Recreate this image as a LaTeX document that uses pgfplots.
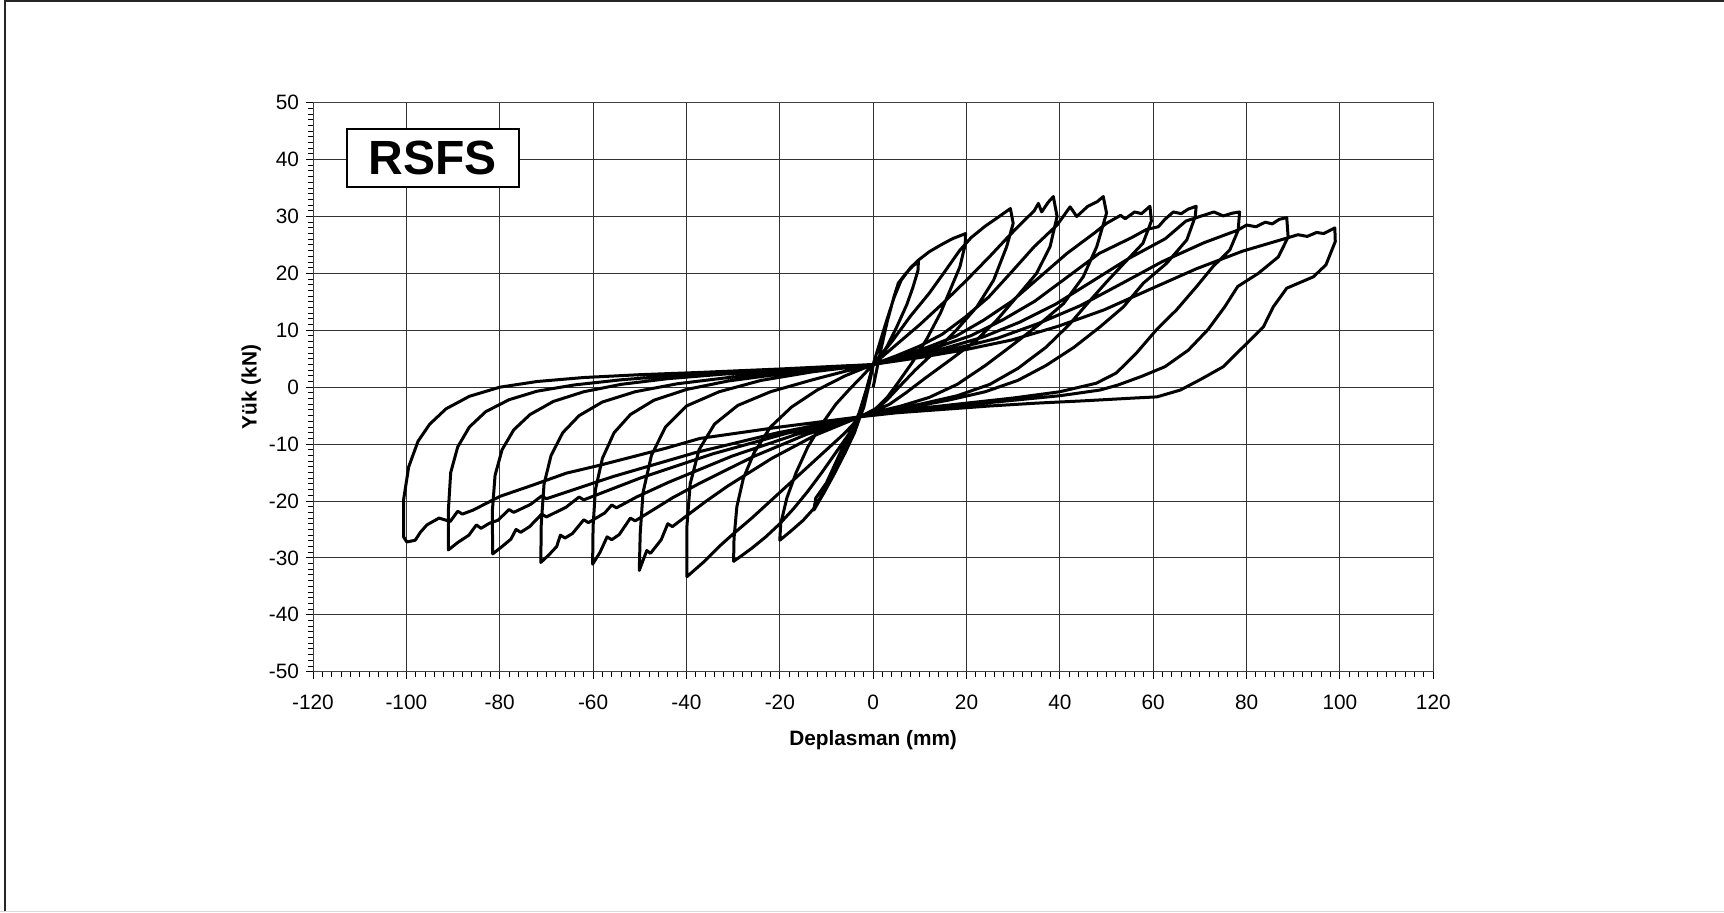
\documentclass[border=0pt]{standalone}
\usepackage{fontspec}
\setmainfont{Liberation Sans}
\usepackage{pgfplots}
\pgfplotsset{compat=1.18}
\begin{document}
\begin{tikzpicture}
\path[use as bounding box] (0,0) rectangle (862pt,456pt);
\draw[line width=1pt, black!85] (2.5pt,0) -- (2.5pt,455.5pt) -- (862pt,455.5pt);
\draw[line width=0.6pt, black!15] (0,0.4pt) -- (862pt,0.4pt);
\begin{axis}[
  at={(156.5pt,120.15pt)}, anchor=south west,
  scale only axis, width=560.15pt, height=284.5pt,
  xmin=-120, xmax=120, ymin=-50, ymax=50,
  xtick={-120,-100,...,120}, ytick={-50,-40,...,50},
  minor x tick num=9, minor y tick num=9,
  grid=major,
  grid style={black!80, line width=0.5pt},
  axis line style={black!75, line width=0.5pt},
  tick style={black, line width=0.5pt},
  tick align=outside, tick pos=left,
  major tick length=3.5pt, minor tick length=2.5pt,
  /pgf/number format/assume math mode=true,
  ticklabel style={font=\fontsize{10.4}{12}\selectfont},
  xticklabel style={yshift=-4.8pt},
  xlabel={Deplasman (mm)}, ylabel={Yük (kN)},
  label style={font=\bfseries\fontsize{10.4}{12}\selectfont},
  xlabel style={at={(axis description cs:0.5,-0.1202)}, anchor=center},
  ylabel style={at={(axis description cs:-0.0551,0.5)}, anchor=center},
]
\addplot[black, line width=1.5pt, line join=round, mark=none] coordinates {
(0,0) (1.5,6) (3,11.5) (4.5,16) (5.4,18.3) (7,20) (8.5,21.3) (9.7,22.1)
(9.6,20.5) (8.5,17.5) (7.2,14.5) (5,10.5) (3,7.2) (1,4.6) (0,3.8) (-1,0) (-2,-3.5) (-2.8,-5.2)
(-4,-8) (-6,-11.5) (-8.5,-15.5) (-10.5,-18.5) (-12.7,-21.6)
(-12.3,-19.5) (-10,-16.8) (-7.2,-11.8) (-4.8,-8) (-3,-4.5) (-1.5,-0.5) (0,4)
(1.5,8) (3,12) (4.5,15.8) (6,18.8) (8,21) (9.8,22.4) (12,23.8) (14.5,25) (17,26.1) (19.8,27)
(19.7,25) (18.6,21.2) (16.5,17.1) (14.4,13) (11.5,8.5) (8.5,4.5) (5.5,1) (3,-1.8) (0.5,-3.8) (-2.8,-5.2)
(-4.5,-8.5) (-6.5,-12) (-9,-16) (-11,-19) (-12.8,-21.4) (-15,-23.4) (-17.5,-25.2) (-20,-26.9)
(-19.8,-24) (-18.5,-19.5) (-16.5,-15) (-14,-10.5) (-11,-6.5) (-8,-3) (-5,-0.3) (-2.5,1.8) (0,4)
(4,8) (8,12.5) (12,16.5) (15.5,20.5) (18.5,24) (21,26.3) (24,28.3) (27,30) (29.4,31.4)
(30,28.8) (28.6,24.7) (25.8,18.8) (22.2,14.1) (17.9,10.1) (12.9,6) (9,3) (5.5,0) (3,-2.2) (0.5,-4) (-2.8,-5.2)
(-5,-8) (-8,-11.5) (-11,-15) (-14,-18.3) (-17,-21.3) (-20,-24) (-23,-26.3) (-26,-28.3) (-28.5,-29.8) (-29.9,-30.6)
(-29.8,-26.5) (-29.2,-21) (-27.8,-16) (-25.5,-11.5) (-22,-7) (-17.5,-3.5) (-12,-0.5) (-6,2) (0,4)
(5,7.5) (10,11) (15,14.8) (20,18.8) (25,23) (29,26.5) (32,29) (34.5,31) (35.4,32.3) (36.1,30.8) (37.5,32.5) (38.6,33.5)
(39.4,30) (37.9,24.7) (35,20) (30.8,15.9) (26.5,11.8) (22.2,8.3) (16.5,4.8) (11,1.5) (7,-1) (3.5,-3) (0,-4.3) (-2.8,-5.2)
(-6,-8) (-10,-11) (-14,-14) (-18,-17) (-22,-20) (-26,-23) (-30,-25.8) (-33,-28) (-36,-30.5) (-38.5,-32.3) (-39.9,-33.3)
(-39.9,-24.5) (-39.2,-17) (-37.3,-11) (-34,-6.5) (-29,-3.2) (-22,-0.8) (-13,1.3) (-6,2.8) (0,4)
(4.9,5.5) (9.9,7.2) (14.8,9.3) (19.7,12.3) (24.7,15.8) (29.6,20.2) (34.5,24.7) (39.4,28.5) (42.2,31.7) (43.6,30) (46,31.8) (48,32.6) (49.3,33.5)
(50,30.6) (47.9,24.7) (45,19.4) (40.8,14.7) (35.8,11.2) (30,7.5) (24,3.8) (18,0.5) (12,-1.8) (6,-3.3) (0,-4.5) (-2.8,-5.2)
(-12.3,-8.4) (-21.7,-12.5) (-31.2,-17.4) (-35.9,-20.1) (-40.6,-23) (-43,-24.5) (-44,-24) (-45.4,-26.8) (-47.7,-29.2) (-48.5,-28.7) (-50.1,-32.2)
(-49.9,-25.7) (-49.3,-18.5) (-47.5,-12) (-44.5,-7) (-40,-3.3) (-33,-0.8) (-24,1.2) (-13,2.7) (0,4)
(5.9,5.4) (11.9,7.1) (17.8,9) (23.7,11.8) (29.7,15.1) (35.6,19.3) (41.5,23.5) (47.4,27.1) (50,28.8) (53,30.2) (54,29.6) (56,30.8) (57.5,30.5) (59.3,31.8)
(59.6,29.2) (57.8,25.3) (54,22) (50,18.5) (46,14.8) (42,11) (37,7) (31,3.3) (25,0.5) (18,-1.5) (10,-3) (3,-4.2) (-2.8,-5.2)
(-14.3,-8.3) (-25.7,-12.2) (-37.2,-16.9) (-42.9,-19.4) (-48.6,-22.3) (-51,-23.5) (-52,-23) (-54.4,-25.9) (-56,-26.8) (-57,-26.3) (-58.5,-29) (-60.1,-31.1)
(-60,-24.5) (-59.5,-18) (-58,-12.5) (-55.5,-8) (-52,-4.8) (-47,-2.3) (-40,-0.4) (-31,1.1) (-20,2.3) (-10,3.1) (0,4)
(6.9,5.4) (13.8,7.1) (20.8,9) (27.7,11.8) (34.6,15.1) (41.5,19.3) (48.4,23.5) (55.4,26.3) (58.5,27.7) (61.1,28.2) (62.5,29.5) (64.3,30.8) (66,30.5) (67.5,31.3) (69.2,31.8)
(69,30) (67.2,25.9) (62.9,21.8) (57.9,18.3) (53.6,14.1) (48.6,10.6) (43,7) (37,3.8) (31,1.2) (24,-0.8) (16,-2.3) (8,-3.5) (0,-4.5) (-2.8,-5.2)
(-16.5,-8.3) (-30.2,-12.1) (-43.8,-16.7) (-50.7,-19.3) (-55,-21.2) (-56,-20.7) (-57.5,-22.1) (-61,-23.8) (-62,-23.3) (-64.4,-25.7) (-66,-26.5) (-67,-26) (-67.8,-28) (-69.5,-29.5) (-71.2,-30.8)
(-71.1,-24) (-70.5,-17) (-69,-12) (-66.5,-8) (-63,-5) (-58,-2.6) (-51,-0.8) (-42,0.6) (-30,1.8) (-16,2.9) (0,4)
(7.8,5.3) (15.6,6.9) (23.5,8.8) (31.3,11.4) (39.1,14.6) (46.9,18.6) (54.7,22.6) (62.6,26.1) (67,29.2) (70,30) (73,30.8) (75,30.1) (77,30.6) (78.5,30.8)
(78.2,27.6) (76.4,24.1) (72.8,21.2) (69.3,17.7) (65,13.6) (60.7,10.1) (56.4,6) (52.1,2.5) (47.8,0.7) (40,-0.8) (30,-1.9) (20,-2.8) (10,-3.7) (0,-4.6) (-2.8,-5.2)
(-18.5,-8.1) (-34.3,-11.7) (-50,-16) (-57.9,-18.5) (-62,-19.8) (-63,-19.3) (-65.8,-21.1) (-70,-22.8) (-71,-22.3) (-73.6,-24.5) (-75.5,-25.5) (-76.5,-25) (-77.6,-26.7) (-79.5,-28) (-81.5,-29.3)
(-81.6,-22) (-81,-15.5) (-79.5,-11) (-77,-7.5) (-73.5,-4.8) (-68.5,-2.5) (-62,-0.8) (-54,0.5) (-44,1.5) (-32,2.3) (-18,3) (0,4)
(8.9,5.3) (17.7,6.8) (26.6,8.6) (35.4,11.2) (44.3,14.3) (53.2,18.2) (62,22.1) (70.9,25.4) (78.1,27.6) (80,28.5) (82,28.2) (84,29) (85.5,28.7) (87,29.5) (88.6,29.8)
(88.9,26.4) (86.8,22.9) (82.5,20) (78.1,17.7) (75.3,14.1) (71.7,10.1) (67.5,6.5) (62.5,3.6) (57.5,1.9) (52.5,0.4) (48.6,-0.5) (40,-1.5) (30,-2.3) (20,-3.1) (10,-3.9) (0,-4.7) (-2.8,-5.2)
(-20.4,-8) (-38.1,-11.5) (-55.7,-15.7) (-64.5,-18.1) (-70,-19.6) (-71,-19.1) (-73.4,-20.6) (-77,-22) (-78,-21.5) (-80.4,-23.4) (-82.2,-23.9) (-84,-24.8) (-85,-24.2) (-86.6,-26) (-89,-27.3) (-91,-28.6)
(-91,-21.6) (-90.5,-15) (-89,-10.5) (-86.5,-7) (-83,-4.3) (-78,-2.2) (-72,-0.7) (-64,0.4) (-54,1.3) (-42,2.1) (-28,2.8) (-14,3.4) (0,4)
(9.9,5.2) (19.8,6.6) (29.7,8.3) (39.6,10.7) (49.5,13.6) (59.3,17.2) (69.2,20.8) (79.1,23.9) (89,26.3) (91,26.8) (93,26.5) (95,27.2) (96.5,27) (98.9,28)
(99,25.6) (97,21.5) (94.3,19.4) (88.6,17.4) (85.7,14.1) (83.6,10.6) (79.3,7.1) (75,3.6) (70,1.3) (65.8,-0.5) (60.8,-1.7) (56,-1.9) (45,-2.4) (35,-2.8) (25,-3.3) (15,-3.9) (5,-4.5) (-2.8,-5.2)
(-20,-7) (-37.1,-9) (-44.3,-10.7) (-51.4,-12.2) (-58.5,-13.7) (-65.7,-15.1) (-72.9,-17.2) (-80,-19.2) (-85.7,-21.6) (-88,-22.3) (-89,-21.8) (-90.6,-23.6) (-93,-23) (-95.6,-24.2) (-97,-25.5) (-98.1,-26.9) (-99.9,-27.2) (-100.6,-26.3)
(-100.6,-19.8) (-99.5,-14) (-97.5,-9.5) (-95,-6.5) (-91.5,-3.8) (-86.5,-1.6) (-80,0) (-72,1) (-62,1.7) (-50,2.2) (-37,2.6) (-20,3.2) (-5,3.8)
};
\node[draw=black, line width=0.9pt, fill=white, minimum width=86.3pt, minimum height=29.15pt, inner sep=0pt, font=\bfseries\fontsize{24}{28}\selectfont] at (axis cs:-94.3,40.25) {RSFS};
\end{axis}
\end{tikzpicture}
\end{document}
